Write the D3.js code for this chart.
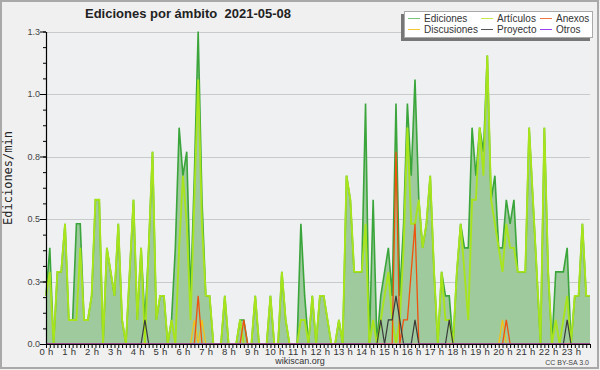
<!DOCTYPE html>
<html>
<head>
<meta charset="utf-8">
<script src="https://cdn.jsdelivr.net/npm/d3@7"></script>
<style>
  body { margin: 0; background: #fff; }
  svg { display: block; font-family: "Liberation Sans", Arial, sans-serif; }
</style>
</head>
<body>
<div id="chart"></div>
<script>
// edits per minute, one value per 10 minute slot (one row = one hour, 0 h .. 23 h)
var ediciones = [
  .2, .4, 0, .3, .3, .5,
  .1, .1, .5, .5, .1, .1,
  .2, .6, .6, 0, .4, .3,
  .2, .5, .1, 0, .3, .6,
  .1, .4, .1, .4, .8, .1,
  .2, .2, 0, .1, .4, .9,
  .7, .8, .2, .7, 1.3, .6,
  .2, .2, 0, 0, 0, .2,
  0, 0, 0, .1, .1, 0,
  0, .2, 0, 0, 0, .2,
  0, 0, .3, .1, 0, 0,
  0, .5, .2, 0, .2, 0,
  .2, .2, .1, 0, 0, .1,
  0, .7, .6, .3, .3, .3,
  1.0, 0, .6, 0, .2, .3,
  .4, .2, 1.0, .2, .5, 1.0,
  .7, 1.1, .6, .4, .5, .7,
  .3, 0, .3, .2, .2, 0,
  .3, .5, .4, .4, .9, .7,
  .9, .8, 1.2, .6, .7, .4,
  .4, .6, .5, .6, .3, .3,
  .3, .9, .6, .3, 0, .9,
  .3, 0, .3, .3, .3, .4,
  0, .2, .2, .5, .2, .2
];
var articulos = [
  .2, .3, 0, .3, .3, .5,
  .1, .1, .1, .4, .1, .1,
  .2, .6, .6, 0, .4, .3,
  .2, .5, .1, 0, .3, .6,
  .1, .4, 0, .4, .8, .1,
  .2, .2, 0, .1, 0, .4,
  .7, .5, .1, .6, 1.1, .5,
  .2, .2, 0, 0, 0, .2,
  0, 0, 0, .1, 0, 0,
  0, .2, 0, 0, 0, .2,
  0, 0, .3, .1, 0, 0,
  0, .1, .1, 0, .2, 0,
  .2, .2, .1, 0, 0, .1,
  0, .7, .6, .3, .3, .3,
  .5, 0, .1, 0, .1, .2,
  .3, .1, 0, .1, .4, .9,
  .5, .5, .6, .4, .5, .7,
  .3, 0, .3, .1, .1, 0,
  .3, .5, .3, .1, .6, .6,
  .9, .7, 1.2, .6, .5, .4,
  .3, .5, .4, .4, .3, .3,
  .3, .9, .6, .3, 0, .9,
  .3, 0, .1, 0, .1, .2,
  0, .2, .2, .5, .2, .2
];
var anexos = [
  0, 0, 0, 0, 0, 0,
  0, 0, 0, 0, 0, 0,
  0, 0, 0, 0, 0, 0,
  0, 0, 0, 0, 0, 0,
  0, 0, 0, 0, 0, 0,
  0, 0, 0, 0, 0, 0,
  0, 0, 0, 0, .2, 0,
  0, 0, 0, 0, 0, 0,
  0, 0, 0, 0, .1, 0,
  0, 0, 0, 0, 0, 0,
  0, 0, 0, 0, 0, 0,
  0, 0, 0, 0, 0, 0,
  0, 0, 0, 0, 0, 0,
  0, 0, 0, 0, 0, 0,
  0, 0, 0, 0, 0, 0,
  0, 0, .8, 0, .1, .1,
  .3, .5, 0, 0, 0, 0,
  0, 0, 0, 0, 0, 0,
  0, 0, 0, 0, 0, 0,
  0, 0, 0, 0, 0, 0,
  0, .1, 0, 0, 0, 0,
  0, 0, 0, 0, 0, 0,
  0, 0, 0, 0, 0, 0,
  0, 0, 0, 0, 0, 0
];
var discusiones = [
  0, 0, 0, 0, 0, 0,
  0, 0, 0, 0, 0, 0,
  0, 0, 0, 0, 0, 0,
  0, 0, 0, 0, 0, 0,
  0, 0, 0, 0, 0, 0,
  0, 0, 0, 0, 0, 0,
  0, 0, 0, .1, 0, .1,
  0, 0, 0, 0, 0, 0,
  0, 0, 0, 0, 0, 0,
  0, 0, 0, 0, 0, 0,
  0, 0, 0, 0, 0, 0,
  0, 0, 0, 0, 0, 0,
  0, 0, 0, 0, 0, 0,
  0, 0, 0, 0, 0, 0,
  0, 0, 0, 0, 0, 0,
  0, 0, 0, 0, 0, 0,
  0, 0, 0, 0, 0, 0,
  0, 0, 0, 0, 0, 0,
  0, 0, 0, 0, 0, 0,
  0, 0, 0, 0, 0, 0,
  .1, 0, 0, 0, 0, 0,
  0, 0, 0, 0, 0, 0,
  0, 0, 0, 0, 0, 0,
  0, 0, 0, 0, 0, 0
];
var proyecto = [
  0, 0, 0, 0, 0, 0,
  0, 0, 0, 0, 0, 0,
  0, 0, 0, 0, 0, 0,
  0, 0, 0, 0, 0, 0,
  0, 0, .1, 0, 0, 0,
  0, 0, 0, 0, 0, 0,
  0, 0, 0, 0, 0, 0,
  0, 0, 0, 0, 0, 0,
  0, 0, 0, 0, 0, 0,
  0, 0, 0, 0, 0, 0,
  0, 0, 0, 0, 0, 0,
  0, 0, 0, 0, 0, 0,
  0, 0, 0, 0, 0, 0,
  0, 0, 0, 0, 0, 0,
  0, 0, 0, 0, .1, 0,
  .1, .1, .2, .1, 0, 0,
  0, .1, 0, 0, 0, 0,
  0, 0, 0, 0, .1, 0,
  0, 0, 0, 0, 0, 0,
  0, 0, 0, 0, 0, 0,
  0, 0, 0, 0, 0, 0,
  0, 0, 0, 0, 0, 0,
  0, 0, 0, 0, 0, .1,
  0, 0, 0, 0, 0, 0
];
var otros = [
  0, 0, 0, 0, 0, 0,
  0, 0, 0, 0, 0, 0,
  0, 0, 0, 0, 0, 0,
  0, 0, 0, 0, 0, 0,
  0, 0, 0, 0, 0, 0,
  0, 0, 0, 0, 0, 0,
  0, 0, 0, 0, 0, 0,
  0, 0, 0, 0, 0, 0,
  0, 0, 0, 0, 0, 0,
  0, 0, 0, 0, 0, 0,
  0, 0, 0, 0, 0, 0,
  0, 0, 0, 0, 0, 0,
  0, 0, 0, 0, 0, 0,
  0, 0, 0, 0, 0, 0,
  0, 0, 0, 0, 0, 0,
  0, 0, 0, 0, 0, 0,
  0, 0, 0, 0, 0, 0,
  0, 0, 0, 0, 0, 0,
  0, 0, 0, 0, 0, 0,
  0, 0, 0, 0, 0, 0,
  0, 0, 0, 0, 0, 0,
  0, 0, 0, 0, 0, 0,
  0, 0, 0, 0, 0, 0,
  0, 0, 0, 0, 0, 0
];

var hourLabels = ["0 h", "1 h", "2 h", "3 h", "4 h", "5 h", "6 h", "7 h", "8 h", "9 h", "10 h", "11 h",
                  "12 h", "13 h", "14 h", "15 h", "16 h", "17 h", "18 h", "19 h", "20 h", "21 h", "22 h", "23 h"];
var yTicks = [0, 0.26, 0.52, 0.78, 1.04, 1.3];
var yMax = 1.3;

var legendItems = [
  { name: "Ediciones",   color: "#7cc47c" },
  { name: "Artículos",   color: "#c4ec50" },
  { name: "Anexos",      color: "#f07840" },
  { name: "Discusiones", color: "#f5c830" },
  { name: "Proyecto",    color: "#555555" },
  { name: "Otros",       color: "#9a40f0" }
];

var WIDTH = 600, HEIGHT = 370;
var MARGINS = { top: 31.5, right: 10, bottom: 26, left: 46 };

var svg = d3.select("#chart").append("svg")
  .attr("width", WIDTH).attr("height", HEIGHT);

svg.append("rect").attr("x", 0).attr("y", 0).attr("width", WIDTH).attr("height", HEIGHT)
  .attr("fill", "#f0f0f0");
svg.append("rect").attr("x", 1).attr("y", 1).attr("width", WIDTH - 3).attr("height", HEIGHT - 3)
  .attr("fill", "none").attr("stroke", "#a9a9a9").attr("stroke-width", 2);

var xScale = d3.scaleLinear().domain([0, ediciones.length - 1])
  .range([MARGINS.left, WIDTH - MARGINS.right]);
var yScale = d3.scaleLinear().domain([0, yMax])
  .range([HEIGHT - MARGINS.bottom, MARGINS.top]);

// plot background
svg.append("rect")
  .attr("x", xScale(0)).attr("y", yScale(yMax))
  .attr("width", xScale(ediciones.length - 1) - xScale(0))
  .attr("height", yScale(0) - yScale(yMax))
  .attr("fill", "#eff0f2");

// grid
svg.append("g").selectAll("line").data(yTicks.slice(1)).enter().append("line")
  .attr("x1", xScale(0)).attr("x2", xScale(ediciones.length - 1))
  .attr("y1", function(d) { return Math.round(yScale(d)) + 0.5; })
  .attr("y2", function(d) { return Math.round(yScale(d)) + 0.5; })
  .attr("stroke", "#c9cacc").attr("stroke-width", 1);

var area = d3.area()
  .x(function(d, i) { return xScale(i); })
  .y0(yScale(0))
  .y1(function(d) { return yScale(d); });
var line = d3.line()
  .x(function(d, i) { return xScale(i); })
  .y(function(d) { return yScale(d); });

svg.append("path").attr("d", area(ediciones)).attr("fill", "#9eca9e");
svg.append("path").attr("d", line(ediciones)).attr("fill", "none")
  .attr("stroke", "#3aa53a").attr("stroke-width", 1.6);
svg.append("path").attr("d", line(articulos)).attr("fill", "none")
  .attr("stroke", "#a8e41c").attr("stroke-width", 1.9);
svg.append("path").attr("d", line(discusiones)).attr("fill", "none")
  .attr("stroke", "#f2c21a").attr("stroke-width", 1.3);
svg.append("path").attr("d", line(anexos)).attr("fill", "none")
  .attr("stroke", "#f0520e").attr("stroke-width", 1.3);
svg.append("path").attr("d", line(proyecto)).attr("fill", "none")
  .attr("stroke", "#3a3a3a").attr("stroke-width", 1.2);
svg.append("path").attr("d", line(otros)).attr("fill", "none")
  .attr("stroke", "#9a40f0").attr("stroke-width", 1.2);

// x axis: one tick per 10 minutes, label every hour
var xAxis = d3.axisBottom(xScale)
  .tickValues(d3.range(ediciones.length))
  .tickSize(4).tickSizeOuter(0)
  .tickFormat(function(d) { return d % 6 === 0 ? hourLabels[d / 6] : ""; });
var gX = svg.append("g").attr("transform", "translate(0," + yScale(0) + ")").call(xAxis);
gX.selectAll("text").attr("y", 4).attr("dy", "0.71em")
  .style("font-size", "9.5px").style("fill", "#333").style("letter-spacing", "0.3px")
  .style("font-family", "'Liberation Sans', Arial, sans-serif");
gX.select(".domain").attr("stroke", "#000").attr("stroke-width", 1.2);
gX.selectAll(".tick line").attr("stroke", "#000");

// y axis: minor ticks, then major ticks with labels
var minorTicks = d3.range(0, 21).map(function(k) { return k * yMax / 20; });
svg.append("g").attr("transform", "translate(" + xScale(0) + ",0)")
  .call(d3.axisLeft(yScale).tickValues(minorTicks).tickSize(3).tickSizeOuter(0).tickFormat(""))
  .select(".domain").attr("stroke", "#000");
var gY = svg.append("g").attr("transform", "translate(" + xScale(0) + ",0)")
  .call(d3.axisLeft(yScale).tickValues(yTicks).tickSize(6).tickPadding(0).tickSizeOuter(0)
    .tickFormat(function(d) { return d.toFixed(1); }));
gY.select(".domain").attr("stroke", "#000").attr("stroke-width", 1.2);
gY.selectAll("text").style("font-size", "9px").style("fill", "#444")
  .style("font-family", "'Liberation Sans', Arial, sans-serif");

// y axis title
svg.append("text")
  .attr("transform", "translate(12,178) rotate(-90)")
  .style("text-anchor", "middle")
  .style("font-family", "'DejaVu Sans Mono', monospace")
  .style("font-size", "12px").style("fill", "#222")
  .text("Ediciones/min");

// title
svg.append("text")
  .attr("x", 85).attr("y", 18)
  .attr("textLength", 206).attr("lengthAdjust", "spacingAndGlyphs")
  .style("white-space", "pre")
  .style("font-size", "13px").style("font-weight", "bold").style("fill", "#222")
  .text("Ediciones por ámbito  2021-05-08");

// legend
var legend = svg.append("g").attr("class", "sideLegend");
legend.append("rect").attr("x", 401).attr("y", 14).attr("width", 189).attr("height", 27)
  .attr("fill", "#777");
legend.append("rect").attr("x", 404.5).attr("y", 11.5).attr("width", 188).attr("height", 26)
  .attr("fill", "#fff").attr("stroke", "#aaa").attr("stroke-width", 1);
var colX = [408, 481, 540];
legendItems.forEach(function(d, i) {
  var cx = colX[i % 3], cy = i < 3 ? 18.5 : 29.5;
  legend.append("line").attr("x1", cx).attr("x2", cx + 12)
    .attr("y1", cy).attr("y2", cy)
    .attr("stroke", d.color).attr("stroke-width", 1);
  legend.append("text").attr("x", cx + 16).attr("y", cy + 3.5)
    .style("font-size", "10px").style("fill", "#333")
    .text(d.name);
});

// footer
svg.append("text").attr("x", 300).attr("y", 364).style("text-anchor", "middle")
  .style("font-size", "9px").style("fill", "#333").text("wikiscan.org");
svg.append("text").attr("x", 589).attr("y", 365).style("text-anchor", "end")
  .style("font-size", "7px").style("fill", "#444").text("CC BY-SA 3.0");
</script>
</body>
</html>
